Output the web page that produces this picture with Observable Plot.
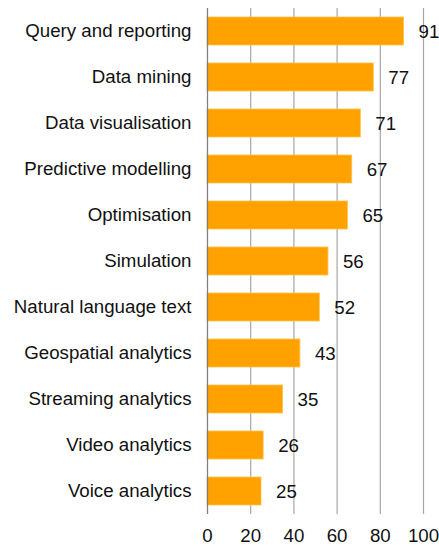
<!DOCTYPE html>
<html>
<head>
<meta charset="utf-8">
<script src="https://cdn.jsdelivr.net/npm/d3@7"></script>
<script src="https://cdn.jsdelivr.net/npm/@observablehq/plot@0.6"></script>
<style>
  html, body { margin: 0; padding: 0; background: #fff; }
  #chart svg { display: block; }
</style>
</head>
<body>
<div id="chart"></div>
<script>
const categories = [
  "Query and reporting",
  "Data mining",
  "Data visualisation",
  "Predictive modelling",
  "Optimisation",
  "Simulation",
  "Natural language text",
  "Geospatial analytics",
  "Streaming analytics",
  "Video analytics",
  "Voice analytics"
];
const values = [91, 77, 71, 67, 65, 56, 52, 43, 35, 26, 25];
const xTicks = [0, 20, 40, 60, 80, 100];

const data = categories.map((c, i) => ({category: c, value: values[i]}));
const FS = 18.7;

const chart = Plot.plot({
  width: 439,
  height: 546,
  marginTop: 8,
  marginBottom: 32,
  marginLeft: 207,
  marginRight: 16,
  style: {fontFamily: "'Liberation Sans', Arial, sans-serif", fontSize: FS + "px", color: "#111", background: "#fff", overflow: "visible"},
  x: {domain: [0, 100], ticks: xTicks, label: null},
  y: {domain: categories, paddingInner: 0.39, paddingOuter: 0.195, label: null},
  marks: [
    Plot.ruleX(xTicks.filter(d => d > 0), {stroke: "#a6a6a6", strokeWidth: 1.2, strokeOpacity: 1}),
    Plot.barX(data, {x: "value", y: "category", fill: "#ffa200", stroke: "#ffc24d", strokeWidth: 0.8}),
    Plot.ruleX([0], {stroke: "#808080", strokeWidth: 1.3}),
    Plot.text(data, {x: "value", y: "category", text: d => String(d.value), textAnchor: "start", dx: 14.5, dy: 1, fontSize: FS, fill: "#111"}),
    Plot.axisX({ticks: xTicks, tickSize: 0, tickPadding: 14.3, fontSize: FS, label: null, fill: "#111"}),
    Plot.axisY({tickSize: 0, tickPadding: 16, fontSize: FS, label: null, fill: "#111"})
  ]
});
document.getElementById("chart").appendChild(chart);
</script>
</body>
</html>
